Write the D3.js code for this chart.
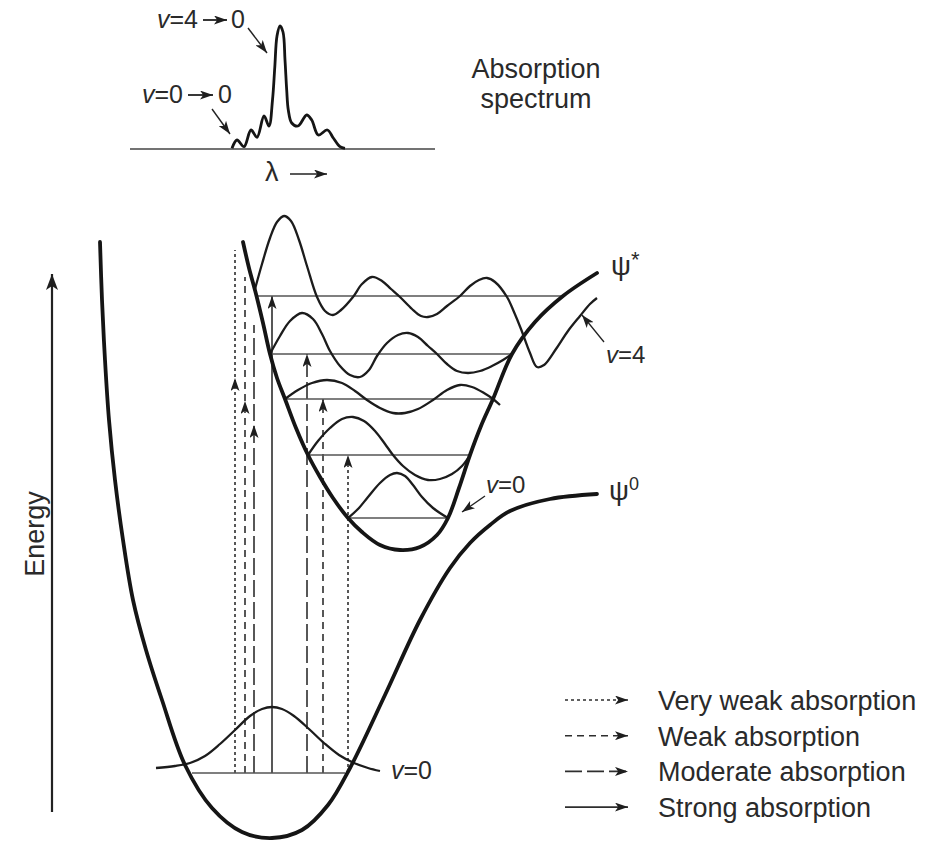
<!DOCTYPE html>
<html>
<head>
<meta charset="utf-8">
<script src="https://cdn.jsdelivr.net/npm/d3@7"></script>
<style>
  body { margin: 0; background: #fff; }
  text { font-family: "Liberation Sans", Arial, sans-serif; fill: #2a2a2a; }
</style>
</head>
<body>
<div id="chart"></div>
<script>
// r = nuclear displacement, E = energy (figure units)
const groundCurve = [[100,608],[102,550],[105,490],[109,430],[115,370],[123,310],[133,250],[146,200],
  [162,150],[185,85],[212,42],[242,18],[272,12],[302,20],[328,45],[350,82],[385,155],[420,230],
  [450,282],[470,307],[490,325],[510,339],[550,351],[597,356]];
const excitedCurve = [[243,608],[249,582],[256,556],[263,527],[270,496],[277,472],[285,451],[296,422],
  [308,395],[320,373],[333,352],[348,332],[362,318],[380,305],[400,300],[420,303],[437,315],[448,332],
  [459,362],[470,395],[481,424],[493,451],[512,496],[535,528],[563,554],[597,577]];

// vibrational levels
const groundLevelE = 77;
const groundLevelR = [192, 345];
const levelE  = [332, 395, 451, 496, 554];   // v = 0..4 of the excited state
const levelR0 = [348, 308, 285, 270, 256];
const levelR1 = [448, 470, 493, 512, 563];

// wavefunctions
const groundWave = [[156,82],[175,84],[190,87],[205,94],[220,106],[235,120],[250,134],[262,141],[272,143],
  [282,141],[294,134],[309,121],[324,107],[339,95],[354,87],[368,82],[380,79]];
const wave0 = [[348,332],[358,341],[368,353],[380,367],[390,375],[397,377],[405,374],[413,365],[422,353],
  [433,342],[448,332]];
const wave1 = [[308,395],[318,409],[330,422],[342,431],[353,433],[364,429],[375,419],[385,406],[393,395],
  [403,384],[415,375],[428,370],[440,371],[452,376],[462,384],[470,395]];
const wave2 = [[285,451],[298,460],[312,467],[327,470],[342,467],[355,459],[367,450],[380,442],[393,437],
  [405,437],[418,441],[433,450],[447,460],[460,465],[472,463],[484,457],[493,451],[500,445]];
const wave3 = [[270,496],[280,514],[290,529],[302,537],[313,531],[322,516],[330,499],[340,484],[350,475],
  [360,473],[369,480],[377,494],[387,507],[398,515],[408,517],[418,513],[428,504],[437,496],[447,486],
  [457,479],[468,477],[480,479],[492,484],[503,490],[512,496]];
const wave4 = [[255,561],[262,586],[270,612],[277,628],[284,634],[291,629],[299,610],[307,584],[317,553],
  [325,539],[333,535],[341,540],[353,553],[362,566],[372,573],[382,569],[391,561],[400,553],[412,541],
  [421,534],[428,533],[437,536],[447,544],[460,554],[470,564],[479,570],[487,572],[495,568],[507,553],
  [514,538],[521,521],[530,497],[537,483],[544,485],[556,501],[568,519],[580,534],[590,546],[597,552]];
const excitedWaves = [wave0, wave1, wave2, wave3, wave4];

// vertical transitions from ground v=0
const transR    = [235, 245, 254, 272, 307, 323, 348];
const transTop  = [600, 573, 525, 554, 496, 451, 395];
const transHead = [472, 449, 425, 554, 496, 451, 395];
const transKind = ["very weak", "weak", "moderate", "strong", "moderate", "weak", "very weak"];

// absorption spectrum inset (lambda, absorbance)
const spectrum = [[102,0.7],[107,9],[114,2.3],[121,19],[127,11.7],[134,33],[139,23],[142.5,49],[144.8,82],
  [147,113],[150,123],[153,117],[155,89],[156.7,59],[158.3,39],[161.7,26],[168,23],[176.7,34],
  [181.7,29],[188.3,14],[197.3,19],[203.3,11],[210,2.3],[215,0.7]];

const legendKinds  = ["very weak", "weak", "moderate", "strong"];
const legendLabels = ["Very weak absorption", "Weak absorption", "Moderate absorption", "Strong absorption"];

const dashFor = {"very weak": "3,3", "weak": "7,5", "moderate": "17,5", "strong": null};

const width = 925, height = 841;

const x = d3.scaleLinear().domain([0, 925]).range([0, 925]);
const y = d3.scaleLinear().domain([0, 850]).range([850, 0]);
const sx = d3.scaleLinear().domain([0, 305]).range([130, 435]);
const sy = d3.scaleLinear().domain([0, 123]).range([149, 26]);

const svg = d3.select("#chart").append("svg")
  .attr("width", width).attr("height", height)
  .attr("viewBox", [0, 0, width, height]);

svg.append("rect").attr("width", width).attr("height", height).attr("fill", "#fff");

// arrowheads
const defs = svg.append("defs");
function marker(id, w, h) {
  defs.append("marker")
    .attr("id", id)
    .attr("viewBox", `0 0 ${w} ${h}`)
    .attr("refX", w).attr("refY", h / 2)
    .attr("markerWidth", w).attr("markerHeight", h)
    .attr("markerUnits", "userSpaceOnUse")
    .attr("orient", "auto")
    .append("path")
    .attr("d", `M0,0 L${w},${h / 2} L0,${h} L${w * 0.25},${h / 2} Z`)
    .attr("fill", "#1e1e1e");
}
marker("head", 13, 9);
marker("big", 16, 12);

const smooth = d3.line()
  .x(d => x(d[0]))
  .y(d => y(d[1]))
  .curve(d3.curveCatmullRom.alpha(0.5));

const specLine = d3.line()
  .x(d => sx(d[0]))
  .y(d => sy(d[1]))
  .curve(d3.curveCatmullRom.alpha(0.5));

function arrow(g, x1, y1, x2, y2, w, id) {
  return g.append("line")
    .attr("x1", x1).attr("y1", y1).attr("x2", x2).attr("y2", y2)
    .attr("stroke", "#222").attr("stroke-width", w || 1.6)
    .attr("marker-end", `url(#${id || "head"})`);
}

// energy axis
arrow(svg, x(52), y(38), x(52), y(576), 2.2, "big");
svg.append("text")
  .attr("transform", `translate(${x(44)},${y(316)}) rotate(-90)`)
  .attr("text-anchor", "middle")
  .attr("font-size", 27)
  .text("Energy");

// transitions
const trans = svg.append("g");
transR.forEach((r, i) => {
  trans.append("line")
    .attr("x1", x(r)).attr("x2", x(r))
    .attr("y1", y(groundLevelE)).attr("y2", y(transTop[i]))
    .attr("stroke", "#2e2e2e").attr("stroke-width", 1.6)
    .attr("stroke-dasharray", dashFor[transKind[i]]);
  trans.append("line")
    .attr("x1", x(r)).attr("x2", x(r))
    .attr("y1", y(transHead[i]) + 3).attr("y2", y(transHead[i]))
    .attr("stroke", "none")
    .attr("marker-end", "url(#head)");
});

// levels
svg.append("line")
  .attr("x1", x(groundLevelR[0])).attr("x2", x(groundLevelR[1]))
  .attr("y1", y(groundLevelE)).attr("y2", y(groundLevelE))
  .attr("stroke", "#555").attr("stroke-width", 1.4);
svg.append("g").selectAll("line")
  .data(levelE)
  .join("line")
    .attr("x1", (d, i) => x(levelR0[i]))
    .attr("x2", (d, i) => x(levelR1[i]))
    .attr("y1", d => y(d)).attr("y2", d => y(d))
    .attr("stroke", "#555").attr("stroke-width", 1.4);

// wavefunctions
svg.append("path").attr("d", smooth(groundWave))
  .attr("fill", "none").attr("stroke", "#1c1c1c").attr("stroke-width", 2.3);
svg.append("g").selectAll("path")
  .data(excitedWaves)
  .join("path")
    .attr("d", d => smooth(d))
    .attr("fill", "none").attr("stroke", "#1c1c1c").attr("stroke-width", 2.3);

// potential curves
[groundCurve, excitedCurve].forEach(c => {
  svg.append("path").attr("d", smooth(c))
    .attr("fill", "none").attr("stroke", "#151515").attr("stroke-width", 3.8)
    .attr("stroke-linecap", "round");
});

// labels on the diagram
function vLabel(g, px, py, rest, size) {
  const t = g.append("text").attr("x", px).attr("y", py).attr("font-size", size || 24);
  t.append("tspan").attr("font-style", "italic").text("v");
  t.append("tspan").text(rest);
  return t;
}
vLabel(svg, x(391), y(71), "=0", 25);
vLabel(svg, x(486), y(357), "=0");
arrow(svg, x(485), y(354), x(462), y(338), 1.3);
vLabel(svg, x(606), y(487), "=4");
arrow(svg, x(604), y(508), x(582), y(535), 1.3);

const psiStar = svg.append("text").attr("x", x(611)).attr("y", y(575)).attr("font-size", 28);
psiStar.append("tspan").text("ψ");
psiStar.append("tspan").attr("font-size", 22).attr("dy", -8).text("*");
const psi0 = svg.append("text").attr("x", x(609)).attr("y", y(350)).attr("font-size", 28);
psi0.append("tspan").text("ψ");
psi0.append("tspan").attr("font-size", 18).attr("dy", -10).text("0");

// absorption spectrum inset
const inset = svg.append("g");
inset.append("line")
  .attr("x1", sx(0)).attr("x2", sx(305))
  .attr("y1", sy(0)).attr("y2", sy(0))
  .attr("stroke", "#444").attr("stroke-width", 1.4);
inset.append("path").attr("d", specLine(spectrum))
  .attr("fill", "none").attr("stroke", "#151515").attr("stroke-width", 2.8);

vLabel(inset, sx(27), sy(121), "=4", 25);
arrow(inset, sx(73), sy(129), sx(97), sy(129), 1.8);
inset.append("text").attr("x", sx(101)).attr("y", sy(121)).attr("font-size", 25).text("0");
arrow(inset, sx(118), sy(121), sx(137), sy(96), 1.4);

vLabel(inset, sx(12), sy(46), "=0", 25);
arrow(inset, sx(58), sy(54), sx(83), sy(54), 1.8);
inset.append("text").attr("x", sx(88)).attr("y", sy(46)).attr("font-size", 25).text("0");
arrow(inset, sx(82), sy(40), sx(100), sy(15), 1.4);

inset.append("text").attr("x", sx(135)).attr("y", sy(-32)).attr("font-size", 27).text("λ");
arrow(inset, sx(160), sy(-25), sx(197), sy(-25), 1.6);

inset.append("text").attr("x", 536).attr("y", 78).attr("text-anchor", "middle")
  .attr("font-size", 27).text("Absorption");
inset.append("text").attr("x", 536).attr("y", 108).attr("text-anchor", "middle")
  .attr("font-size", 27).text("spectrum");

// legend
const legend = svg.append("g").attr("transform", "translate(565,700)");
legendKinds.forEach((k, i) => {
  const row = legend.append("g").attr("transform", `translate(0,${i * 35.7})`);
  row.append("line")
    .attr("x1", 0).attr("x2", 63).attr("y1", 0).attr("y2", 0)
    .attr("stroke", "#2e2e2e").attr("stroke-width", 1.6)
    .attr("stroke-dasharray", dashFor[k])
    .attr("marker-end", "url(#head)");
  row.append("text")
    .attr("x", 93).attr("y", 10)
    .attr("font-size", 27)
    .text(legendLabels[i]);
});
</script>
</body>
</html>
